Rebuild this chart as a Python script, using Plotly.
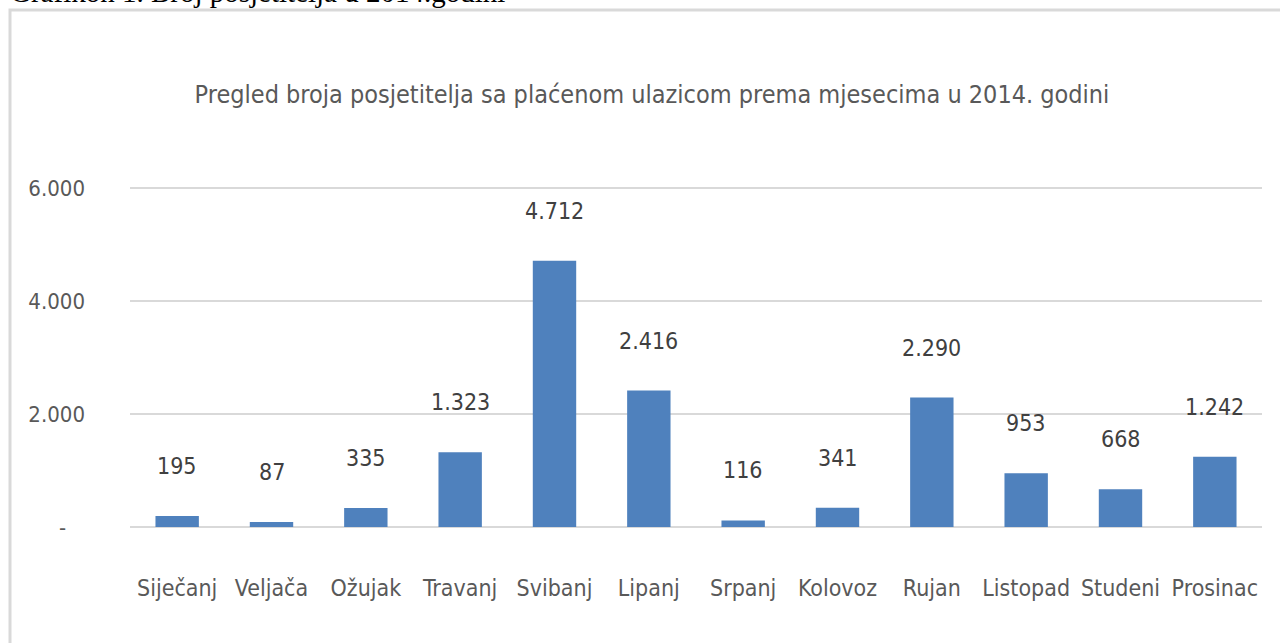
import plotly.graph_objects as go

months = ["Siječanj", "Veljača", "Ožujak", "Travanj", "Svibanj", "Lipanj",
          "Srpanj", "Kolovoz", "Rujan", "Listopad", "Studeni", "Prosinac"]
visitors = [195, 87, 335, 1323, 4712, 2416, 116, 341, 2290, 953, 668, 1242]
value_labels = ["195", "87", "335", "1.323", "4.712", "2.416", "116", "341", "2.290", "953", "668", "1.242"]
y_tickvals = [0, 2000, 4000, 6000]
y_ticktext = ["-\u00a0\u00a0\u00a0", "2.000", "4.000", "6.000"]

FONT = "DejaVu Sans Condensed, Liberation Sans Narrow, sans-serif"
GRAY = "#595959"

W, H = 1280, 643
# 0 -> y=527px, 6000 -> y=188px ; extend by 2px each side so edge gridlines show
PPU = (527 - 188) / 6000.0
EXT = 2 / PPU
L, R, T, B = 130, 18, 186, H - 529
pw, ph = W - L - R, H - T - B

def px_x(x):
    return (x - L) / pw

def px_y(y):
    return (H - B - y) / ph

fig = go.Figure()
fig.add_trace(go.Bar(
    x=months, y=visitors,
    marker=dict(color="#4F81BD", line=dict(width=0)),
    width=0.46,
    hoverinfo="x+y",
))

for m, v, t in zip(months, visitors, value_labels):
    fig.add_annotation(x=m, y=v, text=t, showarrow=False, yanchor="middle",
                       yshift=50, font=dict(family=FONT, size=23, color="#404040"))

# caption partially cut off at top
fig.add_annotation(xref="paper", yref="paper", x=px_x(8), y=px_y(10),
                   xanchor="left", yanchor="bottom", showarrow=False,
                   text="Grafikon 1. Broj posjetitelja u 2014.godini",
                   font=dict(family="Liberation Serif, Times New Roman, serif", size=29, color="#000000"))

# chart border
fig.add_shape(type="rect", xref="paper", yref="paper",
              x0=px_x(10), x1=px_x(1300), y0=px_y(680), y1=px_y(10),
              line=dict(color="#d9d9d9", width=3), fillcolor="rgba(0,0,0,0)", layer="below")

fig.update_layout(
    width=W, height=H,
    margin=dict(l=L, r=R, t=T, b=B, autoexpand=False),
    paper_bgcolor="white", plot_bgcolor="white",
    showlegend=False,
    title=dict(text="Pregled broja posjetitelja sa plaćenom ulazicom prema mjesecima u 2014. godini",
               x=652 / W, xanchor="center", y=1 - 94 / H, yanchor="middle",
               font=dict(family=FONT, size=25, color=GRAY)),
    xaxis=dict(showgrid=False, showline=False, zeroline=False, ticks="",
               tickangle=0, ticklabelstandoff=43,
               tickfont=dict(family=FONT, size=23, color=GRAY)),
    yaxis=dict(range=[-EXT, 6000 + EXT], tickvals=y_tickvals, ticktext=y_ticktext,
               showgrid=True, gridcolor="#d9d9d9", gridwidth=2,
               zeroline=False, showline=False, ticks="",
               ticklabelstandoff=44,
               tickfont=dict(family=FONT, size=22, color=GRAY)),
)

fig.write_html("out.html", config={"displayModeBar": False},
               post_script="document.body.style.margin='0';document.body.style.overflow='hidden';")
